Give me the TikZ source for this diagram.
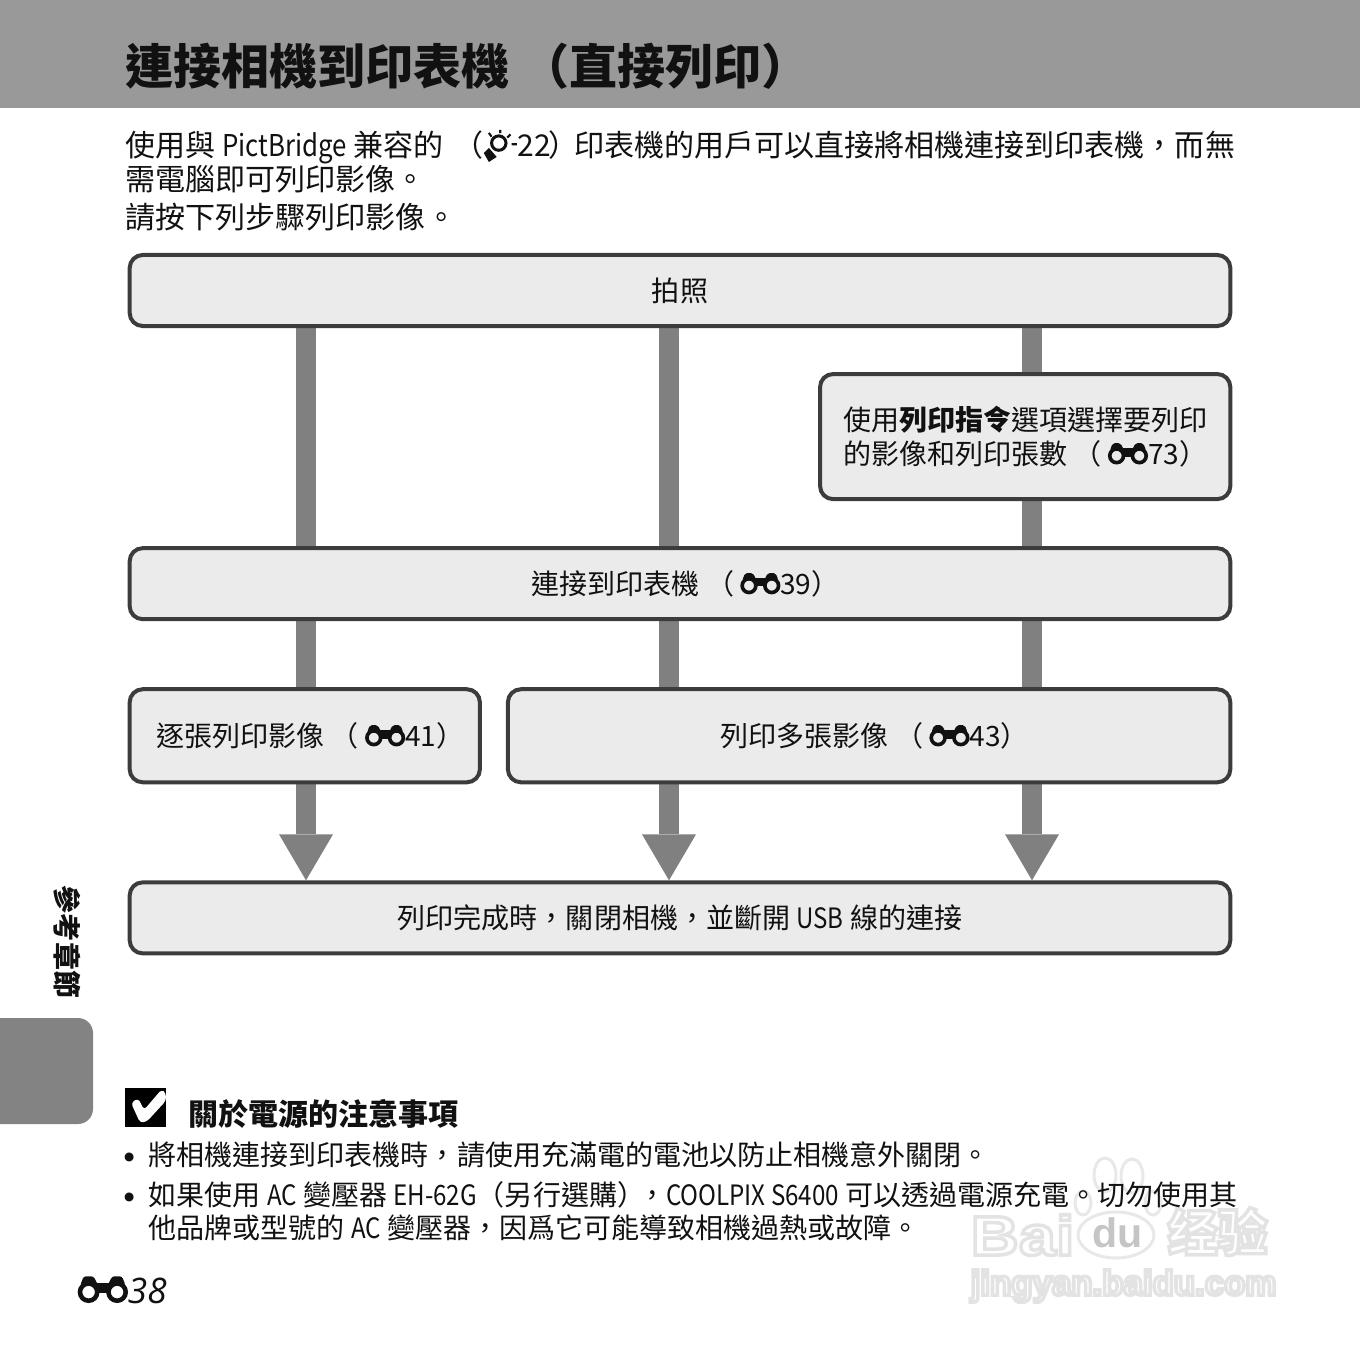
\documentclass[tikz,border=0pt]{standalone}
\usepackage{fontspec}
\usepackage{xcolor}
\usetikzlibrary{arrows.meta, positioning, backgrounds, calc}
\setmainfont{Noto Sans CJK TC}
\newfontfamily\latfont[FakeStretch=0.86]{Noto Sans CJK TC}
\newfontfamily\pagefont{Open Sans}
\newfontfamily\markfont[FakeStretch=1.2]{Liberation Sans}
\newfontfamily\urlfont{Liberation Sans}
\definecolor{headgray}{HTML}{999999}
\definecolor{tabgray}{HTML}{838383}
\definecolor{flowgray}{HTML}{808080}
\definecolor{boxline}{HTML}{3c3c3c}
\definecolor{boxfill}{HTML}{ebebeb}
\definecolor{markgray}{HTML}{e8e8e8}
\definecolor{inkblack}{HTML}{111111}
\newcommand{\bodyfont}{\fontsize{8.54}{10}\selectfont}
\newcommand{\notefont}{\fontsize{7.97}{9.7}\selectfont}
\newcommand{\titlefont}{\fontsize{13.66}{16}\selectfont\bfseries}
\newcommand{\lat}[1]{{\latfont #1}}
% outlined letters of the site mark
\newcommand{\hollow}[1]{\special{pdf:code 2 Tr 1 w 0.89 G 1 g}#1\special{pdf:code 0 Tr}}
% binocular and bulb signs, sized by the font around them
\newcommand{\binoc}{\tikz[baseline=0pt,x=1em,y=1em,sharp corners]{
  \draw[line width=.13em] (.31,.31) circle (.245) (1.12,.31) circle (.245);
  \fill (.5,.28) rectangle (.93,.58);
  \fill[rounded corners=.07em] (.07,.5) -- (.17,.76) -- (.45,.76) -- (.58,.5) -- cycle;
  \fill[rounded corners=.07em] (.85,.5) -- (.98,.76) -- (1.26,.76) -- (1.36,.5) -- cycle;}}
\newcommand{\bulb}{\tikz[baseline=0pt,x=1em,y=1em]{
  \draw[line width=.1em] (.5,.43) circle (.24);
  \fill (0,.1) -- (.17,.27) -- (.43,-.03) -- (.17,-.2) -- cycle;
  \draw[line width=.07em] (.55,.87) -- (.55,.76) (.17,.77) -- (.26,.64)
    (.89,.72) -- (.78,.61) (.93,.39) -- (1.1,.39);}}
\newcommand{\binref}[1]{（\hspace{.22em}\binoc#1）\hspace{-.4em}}

\begin{document}
\begin{tikzpicture}[
  x=0.01cm, y=-0.01cm,
  node distance=0.7cm and 0.28cm,
  box/.style={rectangle, draw=boxline, fill=boxfill, line width=0.04cm,
              rounded corners=0.13cm, outer sep=0pt, inner sep=0pt,
              font=\notefont, text=inkblack, align=center},
  wide/.style={minimum width=11cm, minimum height=0.71cm},
  flow/.style={draw=flowgray, line width=0.2cm},
  flowtip/.style={flow, shorten >=0.02cm,
                  -{Triangle[width=0.54cm, length=0.46cm, line width=0pt, fill=flowgray]}},
  tline/.style={anchor=base west, inner sep=0pt, font=\bodyfont, text=inkblack},
  nline/.style={tline, font=\notefont},
  dotmark/.style={inner sep=0pt, font=\fontsize{12}{12}\selectfont, text=inkblack},
  wmark/.style={inner sep=0pt, anchor=base west},
  pawline/.style={draw=markgray, line width=0.03cm}
]
\useasboundingbox (0,0) rectangle (1360,1360);
\fill[headgray] (0,0) rectangle (1360,108);
\fill[tabgray, rounded corners=0.15cm] (-30,1018) rectangle (93,1124);

\node[tline, font=\titlefont] (title) at (125,84) {連接相機到印表機 （直接列印）};
\node[tline] (intro1) at (125,156) {使用與 \lat{PictBridge} 兼容的\hspace{.1em} （\bulb 22\hspace{-.1em}）\hspace{-.13em}印表機的用戶可以直接將相機連接到印表機，而無};
\node[tline] (intro2) at (125,190) {需電腦即可列印影像。};
\node[tline] (intro3) at (125,228) {請按下列步驟列印影像。};

\node[box, wide] (top) at (680,290.5) {拍照};
\node[box, wide, below=2.22cm of top] (link) {連接到印表機 \binref{39}};
\node[box, below=0.48cm of top.south east, anchor=north east,
      minimum width=4.1cm, minimum height=1.25cm] (order)
      {使用\textbf{列印指令}選項選擇要列印\\的影像和列印張數 \binref{73}};
\node[box, below=of link.south west, anchor=north west,
      minimum width=3.5cm, minimum height=0.93cm] (single) {逐張列印影像 \binref{41}};
\node[box, below=of link.south east, anchor=north east,
      minimum width=7.22cm, minimum height=0.93cm] (multi) {列印多張影像 \binref{43}};
\node[box, wide, below=1cm of single.south west, anchor=north west] (done)
      {列印完成時，關閉相機，並斷開 \lat{USB} 線的連接};

\coordinate (c1) at (306,0);
\coordinate (c2) at (669,0);
\coordinate (c3) at (1032,0);
\begin{scope}[on background layer]
\draw[flow] (top.south -| c1)--(link.north -| c1);
\draw[flow] (top.south -| c2)--(link.north -| c2);
\draw[flow] (top.south -| c3)--(order.north -| c3);
\draw[flow] (order.south -| c3)--(link.north -| c3);
\draw[flow] (link.south -| c1)--(single.north -| c1);
\draw[flow] (link.south -| c2)--(multi.north -| c2);
\draw[flow] (link.south -| c3)--(multi.north -| c3);
\draw[flowtip] (single.south -| c1)--(done.north -| c1);
\draw[flowtip] (multi.south -| c2)--(done.north -| c2);
\draw[flowtip] (multi.south -| c3)--(done.north -| c3);
% faint site mark under the note
\draw[pawline] (1105,1175) ellipse (11 and 17) (1132,1176) ellipse (11 and 17)
  (1083,1203) ellipse (8 and 12) (1153,1203) ellipse (8 and 12) (1116,1235) ellipse (38 and 23);
\node[wmark, font=\markfont\fontsize{15.8}{18}\selectfont\bfseries] (markbai) at (970,1255) {\hollow{Bai}};
\node[wmark, font=\urlfont\fontsize{11.7}{14}\selectfont\bfseries, text=markgray!85!black] (markdu) at (1092,1247) {du};
\node[wmark, font=\fontsize{14.2}{17}\selectfont\bfseries] (markjy) at (1167,1251) {\hollow{经验}};
\node[wmark, font=\urlfont\fontsize{9.9}{12}\selectfont\bfseries] (markurl) at (970,1295) {\hollow{jingyan.baidu.com}};
\end{scope}

\node[inner sep=0pt, rotate=-90, font=\notefont\bfseries, text=inkblack] (side) at (67,942) {參考章節};

\fill[black] (125,1088) rectangle (166,1127);
\fill[white, rounded corners=1pt] (131,1102.7) -- (138.3,1098.3) -- (144,1110) -- (161.7,1089.3) -- (166,1093.3)
  -- (166,1100.7) -- (146.7,1121.7) -- (140,1122.7) -- cycle;
\node[tline, font=\bodyfont\bfseries] (notehead) at (188,1125) {關於電源的注意事項};
\node[dotmark] (dot1) at (130,1163) {•};
\node[nline] (note1) at (148,1165) {將相機連接到印表機時，請使用充滿電的電池以防止相機意外關閉。};
\node[dotmark] (dot2) at (130,1203) {•};
\node[nline] (note2) at (148,1205) {如果使用 \lat{AC} 變壓器 \lat{EH-62G}（另行選購）\hspace{-.25em}，\lat{COOLPIX S6400} 可以透過電源充電。切勿使用其};
\node[nline] (note3) at (148,1238) {他品牌或型號的 \lat{AC} 變壓器，因爲它可能導致相機過熱或故障。};
\node[nline, font=\pagefont\fontsize{10}{12}\selectfont] (folio) at (77,1303) {\binoc\itshape 38};
\end{tikzpicture}
\end{document}
